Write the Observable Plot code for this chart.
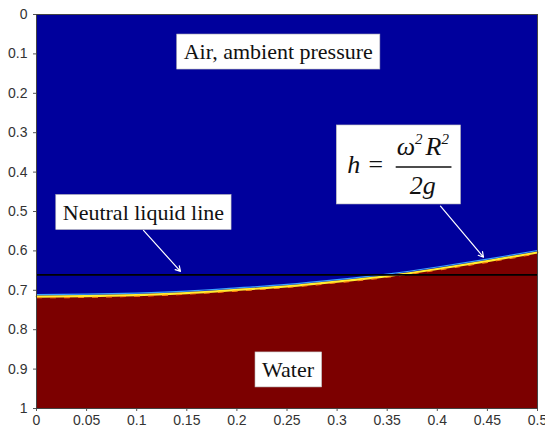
<!DOCTYPE html>
<html><head><meta charset="utf-8">
<script src="https://cdn.jsdelivr.net/npm/d3@7"></script>
<script src="https://cdn.jsdelivr.net/npm/@observablehq/plot@0.6"></script>
<style>
body{margin:0;background:#fff;}
#chart svg{display:block;overflow:visible;}
</style></head>
<body><div id="chart"></div>
<script>
// Tick values
const xTicks = [0, 0.05, 0.1, 0.15, 0.2, 0.25, 0.3, 0.35, 0.4, 0.45, 0.5];
const yTicks = [0, 0.1, 0.2, 0.3, 0.4, 0.5, 0.6, 0.7, 0.8, 0.9, 1];
// Free surface (water/air interface), radius vs depth
const surfaceR = [0, 0.05, 0.1, 0.15, 0.2, 0.25, 0.3, 0.35, 0.4, 0.45, 0.5];
const surfaceDepth = [0.716, 0.715, 0.712, 0.707, 0.699, 0.690, 0.678, 0.664, 0.646, 0.626, 0.604];
// Neutral liquid line depth
const neutralDepth = [0.661];
// Boxed labels
const labelText = ["Air, ambient pressure", "Neutral liquid line", "Water"];
const labelX = [0.2413, 0.1067, 0.251];
const labelY = [0.0952, 0.5025, 0.902];
// Formula label anchor
const formulaX = [0.3646];
const formulaY = [0.376];
// Arrows (start -> end)
const arrowX1 = [0.1068, 0.4032];
const arrowY1 = [0.548, 0.4865];
const arrowX2 = [0.1437, 0.4461];
const arrowY2 = [0.652, 0.616];

const surface = surfaceR.map((r, i) => ({r, d: surfaceDepth[i]}));
const labels = labelText.map((t, i) => ({t, x: labelX[i], y: labelY[i]}));
const arrows = arrowX1.map((x1, i) => ({x1, y1: arrowY1[i], x2: arrowX2[i], y2: arrowY2[i]}));
const formula = [{x: formulaX[0], y: formulaY[0]}];

const blue = "#00009c", red = "#7c0000";
const serif = "Liberation Serif";

const chart = Plot.plot({
  width: 545, height: 431,
  marginLeft: 36, marginRight: 8, marginTop: 14, marginBottom: 23,
  style: {fontFamily: "Liberation Sans", fontSize: "14px", color: "#333", background: "#fff"},
  x: {domain: [0, 0.5]},
  y: {domain: [0, 1], reverse: true},
  marks: [
    Plot.frame({fill: blue}),
    Plot.areaY(surface, {x: "r", y1: "d", y2: 1, fill: red, curve: "natural"}),
    Plot.line(surface, {x: "r", y: "d", stroke: "#3aa0ff", strokeWidth: 1.2, dy: -2, curve: "natural"}),
    Plot.line(surface, {x: "r", y: "d", stroke: "#ffee30", strokeWidth: 2.2, curve: "natural"}),
    Plot.line(surface, {x: "r", y: "d", stroke: "#ff8a10", strokeWidth: 1.1, dy: 1.2, strokeDasharray: "5,9", curve: "natural"}),
    Plot.ruleY(neutralDepth, {stroke: "#000", strokeWidth: 1.8}),
    Plot.arrow(arrows, {x1: "x1", y1: "y1", x2: "x2", y2: "y2", stroke: "#fff", strokeWidth: 1.2, headLength: 7}),
    Plot.text(labels, {x: "x", y: "y", text: "t", fontFamily: serif, fontSize: 22, fill: "#111", ariaDescription: "boxlabel"}),
    Plot.text(formula, {x: "x", y: "y", text: () => "h =", dx: -36, dy: 2, fontFamily: serif, fontStyle: "italic", fontSize: 26, fill: "#111", ariaDescription: "formula"}),
    Plot.text(formula, {x: "x", y: "y", text: () => "ω2R2", dx: 21, dy: -16, fontFamily: serif, fontStyle: "italic", fontSize: 26, fill: "#111", ariaDescription: "formula num"}),
    Plot.text(formula, {x: "x", y: "y", text: () => "2g", dx: 21, dy: 23, fontFamily: serif, fontStyle: "italic", fontSize: 26, fill: "#111", ariaDescription: "formula den"}),
    Plot.axisX({ticks: xTicks, tickFormat: d => String(d), tickSize: 3, tickPadding: 4, stroke: "#555"}),
    Plot.axisY({ticks: yTicks, tickFormat: d => String(d), tickSize: 3, tickPadding: 6, stroke: "#555"}),
    Plot.frame({stroke: "#444", strokeWidth: 1})
  ]
});
document.getElementById("chart").appendChild(chart);

const NS = "http://www.w3.org/2000/svg";
// Superscripts in the numerator (keep as real text with tspans)
const numText = chart.querySelector('g[aria-description="formula num"] text');
if (numText) {
  const parts = [["ω", 0, null], ["2", -11, 15], ["R", 11, null], ["2", -11, 15]];
  numText.textContent = "";
  parts.forEach(([s, dy, fs], i) => {
    const ts = document.createElementNS(NS, "tspan");
    ts.textContent = s;
    if (dy) ts.setAttribute("dy", dy);
    if (fs) ts.setAttribute("font-size", fs);
    if (i === 2) ts.setAttribute("dx", 3);
    numText.appendChild(ts);
  });
  const last = document.createElementNS(NS, "tspan");
  last.setAttribute("dy", 11);
  last.textContent = "";
  numText.appendChild(last);
}

function absBBox(el) {
  const r = el.getBoundingClientRect();
  const c = chart.getBoundingClientRect();
  return {x: r.left - c.left, y: r.top - c.top, width: r.width, height: r.height};
}
function addRect(layer, x, y, w, h) {
  const rect = document.createElementNS(NS, "rect");
  rect.setAttribute("x", x);
  rect.setAttribute("y", y);
  rect.setAttribute("width", w);
  rect.setAttribute("height", h);
  rect.setAttribute("fill", "#fff");
  rect.setAttribute("stroke", "#bbb");
  rect.setAttribute("stroke-width", "0.6");
  layer.appendChild(rect);
}
const labelG = chart.querySelector('g[aria-description="boxlabel"]');
const boxLayer = document.createElementNS(NS, "g");
labelG.parentNode.insertBefore(boxLayer, labelG);
labelG.querySelectorAll("text").forEach(t => {
  const bb = absBBox(t);
  addRect(boxLayer, bb.x - 7, bb.y - 5, bb.width + 14, bb.height + 10);
});
// Formula box and fraction bar
const fGroups = [...chart.querySelectorAll('g[aria-description^="formula"]')];
const fb = fGroups.map(g => absBBox(g));
const x0 = Math.min(...fb.map(b => b.x)), x1 = Math.max(...fb.map(b => b.x + b.width));
const y0 = Math.min(...fb.map(b => b.y)), y1 = Math.max(...fb.map(b => b.y + b.height));
addRect(boxLayer, x0 - 11, y0 - 6, x1 - x0 + 22, y1 - y0 + 10);
const num = absBBox(fGroups[1]), den = absBBox(fGroups[2]);
const barY = (num.y + num.height + den.y) / 2 + 1;
const bar = document.createElementNS(NS, "line");
bar.setAttribute("x1", Math.min(num.x, den.x) - 1);
bar.setAttribute("x2", Math.max(num.x + num.width, den.x + den.width) + 2);
bar.setAttribute("y1", barY);
bar.setAttribute("y2", barY);
bar.setAttribute("stroke", "#111");
bar.setAttribute("stroke-width", "1.4");
fGroups[2].parentNode.appendChild(bar);
</script>
</body></html>
